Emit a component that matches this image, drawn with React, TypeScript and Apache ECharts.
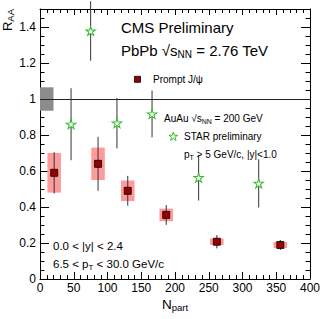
import React, { useEffect, useRef } from "react";
import * as echarts from "echarts";

// ---- Data ----
const npartCMS = [21, 86, 130, 187, 262, 356];
const raaCMS = [0.59, 0.64, 0.49, 0.356, 0.207, 0.189];
const statCMS = [0.115, 0.15, 0.083, 0.055, 0.037, 0.028];
const sysCMS = [0.11, 0.09, 0.057, 0.035, 0.018, 0.017];

const npartSTAR = [46, 75, 114, 166, 235, 324];
const raaSTAR = [0.86, 1.378, 0.866, 0.917, 0.563, 0.531];
const errSTAR = [0.2, 0.165, 0.14, 0.13, 0.127, 0.134];

const globalUnc = [0.065];
const globalBoxWidth = [20];

const xMajorTicks = [0, 50, 100, 150, 200, 250, 300, 350, 400];
const xMinorTicks = [10, 20, 30, 40, 60, 70, 80, 90, 110, 120, 130, 140, 160, 170, 180, 190, 210, 220, 230, 240, 260, 270, 280, 290, 310, 320, 330, 340, 360, 370, 380, 390];
const yMajorTicks = [0, 0.2, 0.4, 0.6, 0.8, 1, 1.2, 1.4];
const yMinorTicks = [0.05, 0.1, 0.15, 0.25, 0.3, 0.35, 0.45, 0.5, 0.55, 0.65, 0.7, 0.75, 0.85, 0.9, 0.95, 1.05, 1.1, 1.15, 1.25, 1.3, 1.35, 1.45];

const SYS_HALF_WIDTH = 10;
const FONT = "Liberation Sans";

const STAR_PATH =
  "path://M0,-10L2.245,-3.09L9.511,-3.09L3.633,1.18L5.878,8.09L0,3.82L-5.878,8.09L-3.633,1.18L-9.511,-3.09L-2.245,-3.09Z";

function starPoints(cx: number, cy: number, r: number) {
  const pts: number[][] = [];
  for (let i = 0; i < 10; i++) {
    const rr = i % 2 === 0 ? r : r * 0.382;
    const a = -Math.PI / 2 + (i * Math.PI) / 5;
    pts.push([cx + rr * Math.cos(a), cy + rr * Math.sin(a)]);
  }
  return pts;
}

export default function App() {
  const ref = useRef<HTMLDivElement>(null);
  useEffect(() => {
    if (!ref.current) return;
    const chart = echarts.init(ref.current, undefined, { renderer: "svg" });

    const cmsData = npartCMS.map((x, i) => [x, raaCMS[i], statCMS[i], sysCMS[i]]);
    const starData = npartSTAR.map((x, i) => [x, raaSTAR[i], errSTAR[i]]);

    const axisCommon = {
      min: 0,
      splitLine: { show: false },
      axisLine: { show: true, onZero: false, lineStyle: { color: "#000", width: 1 } },
    };

    const mkX = (pos: string, ticks: number[], len: number, labels: boolean, line: boolean) => ({
      ...axisCommon,
      type: "value",
      position: pos,
      max: 400,
      interval: 50,
      axisLine: { ...axisCommon.axisLine, show: line },
      axisTick: { show: true, inside: true, length: len, customValues: ticks, lineStyle: { color: "#000" } },
      axisLabel: labels
        ? { show: true, customValues: ticks, fontSize: 12, color: "#000", margin: 3, fontFamily: FONT }
        : { show: false },
    });
    const mkY = (pos: string, ticks: number[], len: number, labels: boolean, line: boolean) => ({
      ...axisCommon,
      type: "value",
      position: pos,
      max: 1.5,
      axisLine: { ...axisCommon.axisLine, show: line },
      axisTick: { show: true, inside: true, length: len, customValues: ticks, lineStyle: { color: "#000" } },
      axisLabel: labels
        ? { show: true, customValues: ticks, fontSize: 12, color: "#000", margin: 4, fontFamily: FONT }
        : { show: false },
    });

    const rich15 = {
      m: { fontSize: 15, fontFamily: FONT, color: "#000", lineHeight: 18 },
      s: { fontSize: 10, fontFamily: FONT, color: "#000", lineHeight: 10, verticalAlign: "bottom" },
    };
    const rich10 = {
      m: { fontSize: 10, fontFamily: FONT, color: "#000", lineHeight: 13 },
      s: { fontSize: 7, fontFamily: FONT, color: "#000", lineHeight: 7, verticalAlign: "bottom" },
    };
    const rich115 = {
      m: { fontSize: 11.5, fontFamily: FONT, color: "#000", lineHeight: 15 },
      s: { fontSize: 8, fontFamily: FONT, color: "#000", lineHeight: 8, verticalAlign: "bottom" },
    };

    const option: any = {
      animation: false,
      backgroundColor: "#fff",
      grid: { left: 40, right: 22, top: 9, bottom: 40, containLabel: false },
      xAxis: [
        mkX("bottom", xMajorTicks, 7, true, true),
        mkX("bottom", xMinorTicks, 4, false, false),
        mkX("top", xMajorTicks, 6, false, true),
        mkX("top", xMinorTicks, 4, false, false),
      ],
      yAxis: [
        mkY("left", yMajorTicks, 9, true, true),
        mkY("left", yMinorTicks, 4.5, false, false),
        mkY("right", yMajorTicks, 9, false, true),
        mkY("right", yMinorTicks, 4.5, false, false),
      ],
      series: [
        {
          type: "custom",
          name: "global",
          data: [[0, 1, globalUnc[0], globalBoxWidth[0]]],
          renderItem: (p: any, api: any) => {
            const a = api.coord([api.value(0), api.value(1) + api.value(2)]);
            const b = api.coord([api.value(0) + api.value(3), api.value(1) - api.value(2)]);
            return {
              type: "rect",
              shape: { x: a[0], y: a[1], width: b[0] - a[0], height: b[1] - a[1] },
              style: { fill: "#8c8c8c" },
            };
          },
        },
        {
          type: "custom",
          name: "unity",
          data: [[0, 400, 1]],
          renderItem: (p: any, api: any) => {
            const a = api.coord([api.value(0), api.value(2)]);
            const b = api.coord([api.value(1), api.value(2)]);
            const y = Math.round(a[1]) + 0.5;
            return {
              type: "line",
              shape: { x1: a[0], y1: y, x2: b[0], y2: y },
              style: { stroke: "#222", lineWidth: 1 },
            };
          },
        },
        {
          type: "custom",
          name: "sys",
          data: cmsData,
          renderItem: (p: any, api: any) => {
            const x = api.value(0), y = api.value(1), s = api.value(3);
            const a = api.coord([x - SYS_HALF_WIDTH, y + s]);
            const b = api.coord([x + SYS_HALF_WIDTH, y - s]);
            return {
              type: "rect",
              shape: { x: a[0], y: a[1], width: b[0] - a[0], height: b[1] - a[1] },
              style: { fill: "#ff9a9a" },
            };
          },
        },
        {
          type: "custom",
          name: "stat",
          data: cmsData,
          renderItem: (p: any, api: any) => {
            const x = api.value(0), y = api.value(1), e = api.value(2);
            const a = api.coord([x, y + e]);
            const b = api.coord([x, y - e]);
            return {
              type: "line",
              shape: { x1: a[0], y1: a[1], x2: b[0], y2: b[1] },
              style: { stroke: "#333", lineWidth: 1 },
            };
          },
        },
        {
          type: "custom",
          name: "starErr",
          clip: false,
          data: starData,
          renderItem: (p: any, api: any) => {
            const x = api.value(0), y = api.value(1), e = api.value(2);
            const a = api.coord([x, y + e]);
            const b = api.coord([x, y - e]);
            return {
              type: "line",
              shape: { x1: a[0], y1: a[1], x2: b[0], y2: b[1] },
              style: { stroke: "#333", lineWidth: 1 },
            };
          },
        },
        {
          type: "scatter",
          name: "STAR",
          data: starData.map((d) => [d[0], d[1]]),
          symbol: STAR_PATH,
          symbolSize: [9.5, 9],
          itemStyle: { color: "#fff", borderColor: "#33bb33", borderWidth: 1, opacity: 1 },
        },
        {
          type: "scatter",
          name: "CMS",
          data: cmsData.map((d) => [d[0], d[1]]),
          symbol: "rect",
          symbolSize: 7,
          itemStyle: { color: "#990000", borderColor: "#000", borderWidth: 0.8, opacity: 1 },
        },
      ],
      graphic: [
        {
          type: "text",
          x: 7,
          y: 9,
          rotation: Math.PI / 2,
          style: {
            text: "{m|R}{s|AA}",
            align: "right",
            verticalAlign: "middle",
            rich: {
              m: { fontSize: 13, fontFamily: FONT, color: "#000", lineHeight: 16 },
              s: { fontSize: 9.5, fontFamily: FONT, color: "#000", lineHeight: 10, verticalAlign: "bottom" },
            },
          },
        },
        {
          type: "text",
          x: 175,
          y: 304,
          style: {
            text: "{m|N}{s|part}",
            align: "center",
            verticalAlign: "middle",
            rich: {
              m: { fontSize: 13.5, fontFamily: FONT, color: "#000", lineHeight: 16 },
              s: { fontSize: 9.5, fontFamily: FONT, color: "#000", lineHeight: 10, verticalAlign: "bottom" },
            },
          },
        },
        {
          type: "text",
          x: 121,
          y: 27,
          style: { text: "{m|CMS Preliminary}", verticalAlign: "middle", rich: rich15 },
        },
        {
          type: "text",
          x: 121,
          y: 50,
          style: { text: "{m|PbPb √s}{s|NN}{m| = 2.76 TeV}", verticalAlign: "middle", rich: rich15 },
        },
        {
          type: "rect",
          shape: { x: 134.5, y: 76.3, width: 6, height: 6 },
          style: { fill: "#990000", stroke: "#000", lineWidth: 0.8 },
        },
        {
          type: "text",
          x: 153,
          y: 79.5,
          style: { text: "{m|Prompt J/ψ}", verticalAlign: "middle", rich: rich10 },
        },
        {
          type: "text",
          x: 164,
          y: 118,
          style: { text: "{m|AuAu √s}{s|NN}{m| = 200 GeV}", verticalAlign: "middle", rich: rich10 },
        },
        {
          type: "polygon",
          shape: { points: starPoints(173.3, 136.7, 4.6) },
          style: { fill: "#fff", stroke: "#33bb33", lineWidth: 1 },
        },
        {
          type: "text",
          x: 184,
          y: 136.5,
          style: { text: "{m|STAR preliminary}", verticalAlign: "middle", rich: rich10 },
        },
        {
          type: "text",
          x: 184,
          y: 154,
          style: { text: "{m|p}{s|T}{m| > 5 GeV/c, |y|<1.0}", verticalAlign: "middle", rich: rich10 },
        },
        {
          type: "text",
          x: 53,
          y: 246,
          style: { text: "{m|0.0 < |y| < 2.4}", verticalAlign: "middle", rich: rich115 },
        },
        {
          type: "text",
          x: 53,
          y: 264,
          style: { text: "{m|6.5 < p}{s|T}{m| < 30.0 GeV/c}", verticalAlign: "middle", rich: rich115 },
        },
      ],
    };
    chart.setOption(option);
    return () => chart.dispose();
  }, []);

  return (
    <div
      ref={ref}
      style={{ position: "fixed", left: 0, top: 0, width: 332, height: 319, background: "#fff" }}
    />
  );
}
